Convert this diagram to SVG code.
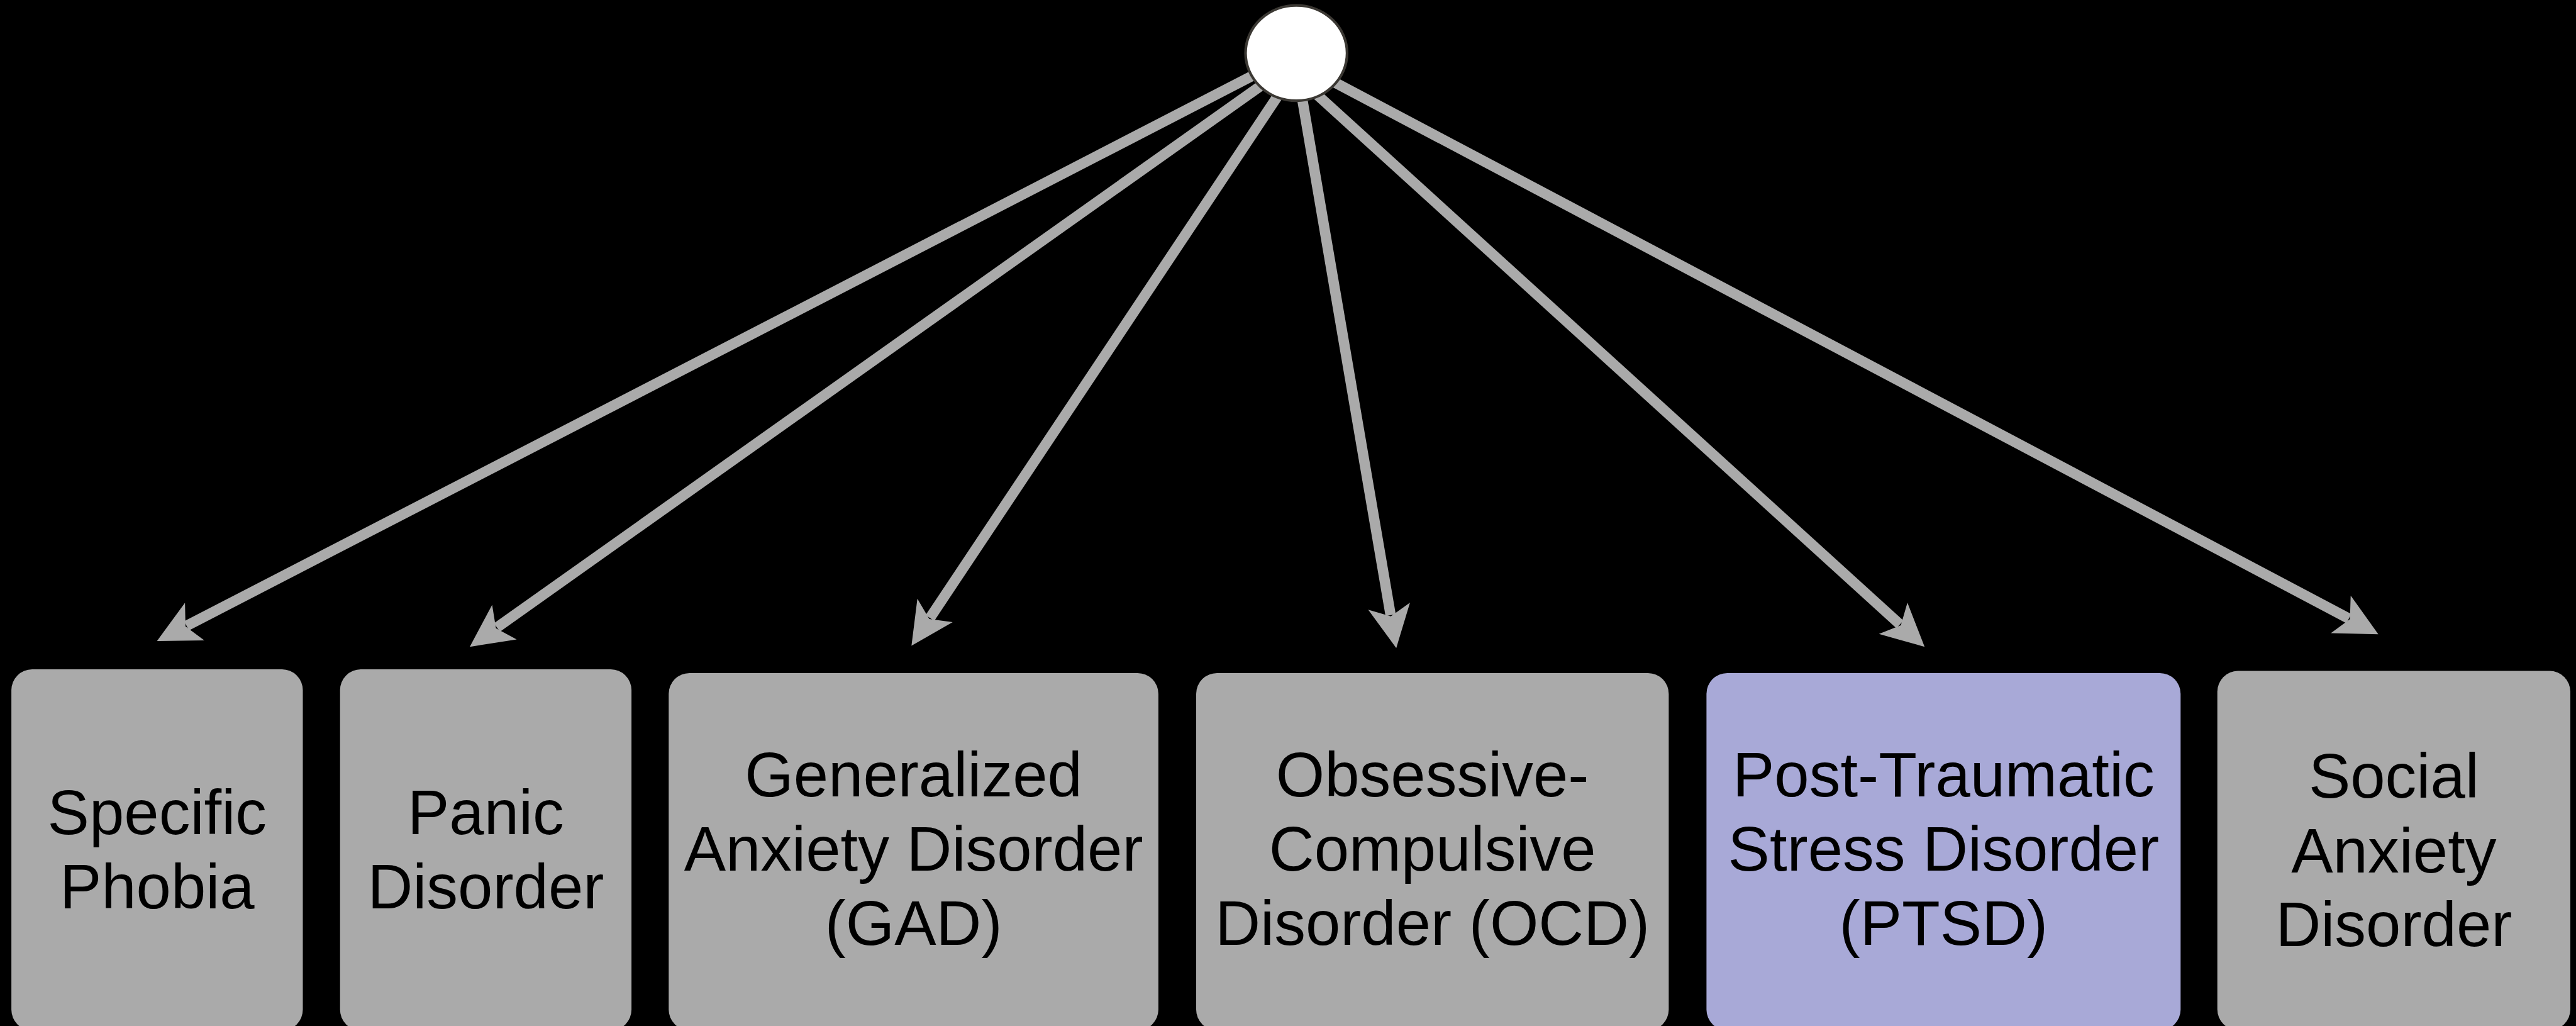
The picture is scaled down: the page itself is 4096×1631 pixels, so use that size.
<svg xmlns="http://www.w3.org/2000/svg" width="4096" height="1631" viewBox="0 0 4096 1631">
  <style>
    .box { fill: #aaaaaa; }
    .box.hl { fill: #a8a9d7; }
    .label { font-family: "Liberation Sans", Arial, Helvetica, sans-serif; font-size: 99.5px; fill: #000000; text-anchor: middle; }
    .edge { stroke: #aaaaaa; stroke-width: 16.5; fill: none; stroke-linecap: butt; marker-end: url(#head); }
    .root { fill: #ffffff; stroke: #3b3833; stroke-width: 4.2; }
  </style>
  <defs>
    <marker id="head" markerUnits="userSpaceOnUse" viewBox="-20 -40 80 80" markerWidth="80" markerHeight="80" refX="0" refY="0" orient="auto">
      <path d="M53,0 L-14.5,-33.7 L2,0 L-14.5,33.7 Z" fill="#aaaaaa"/>
    </marker>
  </defs>

  <rect x="0" y="0" width="4096" height="1631" fill="#000000"/>

  <!-- connectors from the root to each category -->
  <g id="connectors">
    <line class="edge" x1="2041.7" y1="94.6" x2="296.7" y2="994.8"/>
    <line class="edge" x1="2063.7" y1="94.6" x2="790.2" y2="997.5"/>
    <line class="edge" x1="2070.4" y1="94.6" x2="1478.7" y2="982.4"/>
    <line class="edge" x1="2059.9" y1="94.6" x2="2211.2" y2="977.9"/>
    <line class="edge" x1="2032.6" y1="94.6" x2="3021.0" y2="992.6"/>
    <line class="edge" x1="2053.5" y1="94.6" x2="3734.8" y2="983.4"/>
  </g>

  <g id="root">
    <ellipse class="root" cx="2061.2" cy="84.4" rx="80.7" ry="75.8"/>
  </g>

  <g id="specific-phobia">
    <rect class="box" x="18.1" y="1064.1" width="463.4" height="574" rx="33" ry="33"/>
    <text class="label" x="249.8" y="1325.9">Specific</text>
    <text class="label" x="249.8" y="1443.5">Phobia</text>
  </g>

  <g id="panic-disorder">
    <rect class="box" x="540.7" y="1064.1" width="463.4" height="574" rx="33" ry="33"/>
    <text class="label" x="772.4" y="1325.9">Panic</text>
    <text class="label" x="772.4" y="1443.5">Disorder</text>
  </g>

  <g id="gad">
    <rect class="box" x="1063.3" y="1069.9" width="778.6" height="568" rx="33" ry="33"/>
    <text class="label" x="1452.6" y="1265.8">Generalized</text>
    <text class="label" x="1452.6" y="1383.9">Anxiety Disorder</text>
    <text class="label" x="1452.6" y="1502.4">(GAD)</text>
  </g>

  <g id="ocd">
    <rect class="box" x="1902" y="1069.9" width="751.4" height="568" rx="33" ry="33"/>
    <text class="label" x="2277.7" y="1265.8">Obsessive-</text>
    <text class="label" x="2277.7" y="1383.9">Compulsive</text>
    <text class="label" x="2277.7" y="1502.4">Disorder (OCD)</text>
  </g>

  <g id="ptsd">
    <rect class="box hl" x="2713.4" y="1069.9" width="753.9" height="568" rx="33" ry="33"/>
    <text class="label" x="3090.4" y="1265.8">Post-Traumatic</text>
    <text class="label" x="3090.4" y="1383.9">Stress Disorder</text>
    <text class="label" x="3090.4" y="1502.4">(PTSD)</text>
  </g>

  <g id="social-anxiety">
    <rect class="box" x="3525.7" y="1066.6" width="561.3" height="571" rx="33" ry="33"/>
    <text class="label" x="3806.4" y="1268.2">Social</text>
    <text class="label" x="3806.4" y="1386.8">Anxiety</text>
    <text class="label" x="3806.4" y="1504.4">Disorder</text>
  </g>
</svg>
